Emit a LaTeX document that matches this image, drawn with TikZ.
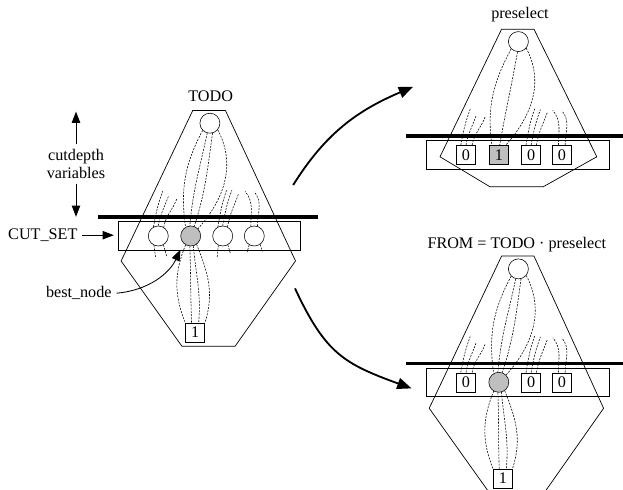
\documentclass[tikz,border=0pt]{standalone}
\usepackage{fontspec}
\setmainfont{Liberation Serif}
\usetikzlibrary{arrows.meta, positioning}

\tikzset{
  vnode/.style={circle, draw, fill=white, minimum size=5mm, inner sep=0pt},
  vbox/.style={rectangle, draw, fill=white, minimum size=4.75mm, inner sep=0pt},
  chosen/.style={fill=gray!50},
  cutrow/.style={rectangle, draw, minimum width=4.56cm, minimum height=7.15mm, inner sep=0pt},
  cutline/.style={line width=2.2pt},
  trail/.style={dash pattern=on 1.4pt off 0.9pt, line width=0.4pt},
  bigarrow/.style={line width=1.3pt, -{Triangle[length=3.6mm,width=2.8mm]}},
  smallarrow/.style={line width=0.6pt, -{Triangle[length=2.8mm,width=2.1mm]}},
}

\begin{document}
\begin{tikzpicture}[every node/.style={font=\fontsize{11.5}{12.6}\selectfont}]
  \useasboundingbox (0,0) rectangle (15.575,12.25);

  % TODO tree
  \begin{scope}[shift={(5.2175,6.825)}]
    \draw[line width=0.5pt] (-0.4,2.66) -- (0.42,2.66) -- (2.17,-1.1) -- (0.66,-3.23)
          -- (-0.67,-3.23) -- (-2.19,-1.1) -- cycle;
    \node[cutrow] (lrow) at (0.02,-0.475) {};
    \draw[cutline] (-2.77,0) -- (2.73,0);
    \node (todo) at (0.05,3.03) {TODO};
    \node[vnode] (lroot) at (0.03,2.345) {};
    \node[vnode] (lc1) at (-1.26,-0.475) {};
    \node[vnode, chosen] (lc2) at (-0.45,-0.475) {};
    \node[vnode] (lc3) at (0.35,-0.475) {};
    \node[vnode] (lc4) at (1.14,-0.475) {};
    \node[vbox] (lone) at (-0.34,-2.89) {1};
    % paths through best node
    \draw[trail] (lroot.-135) to[out=-118,in=98] (lc2.120);
    \draw[trail] (lroot.-105) to[out=-102,in=85] (lc2.95);
    \draw[trail] (lroot.-75) to[out=-98,in=72] (lc2.70);
    \draw[trail] (lroot.-40) to[out=-62,in=48] (lc2.45);
    \draw[trail] (lc2.-120) to[out=-112,in=112] (lone.north west);
    \draw[trail] (lc2.-95) to[out=-88,in=92] (lone.110);
    \draw[trail] (lc2.-75) to[out=-85,in=85] (lone.70);
    \draw[trail] (lc2.-55) to[out=-68,in=72] (lone.north east);
    % other paths
    \foreach \a/\dx/\dy in {118/0.235/0.9, 90/0.25/0.73, 58/0.335/0.73}
      \draw[trail] (lc1.\a) to[out=80,in=-110] ++(\dx,\dy);
    \foreach \a/\dx/\dy in {118/0.22/0.92, 90/0.23/0.89, 62/0.28/0.84}
      \draw[trail] (lc3.\a) to[out=80,in=-110] ++(\dx,\dy);
    \foreach \a/\dx/\dy in {110/-0.14/0.87, 72/-0.08/0.86}
      \draw[trail] (lc4.\a) to[out=90,in=-50] ++(\dx,\dy);
    \draw[trail] (lc1.-115) -- ++(0.04,-0.3);
    \draw[trail] (lc1.-60) -- ++(0.08,-0.28);
    \draw[trail] (lc3.-115) -- ++(-0.03,-0.3);
    \draw[trail] (lc3.-60) -- ++(0.06,-0.2);
    \draw[trail] (lc4.-120) -- ++(-0.05,-0.18);
    \draw[trail] (lc4.-55) -- ++(0.05,-0.18);
  \end{scope}

  % labels on the left
  \node[align=center] (cutdepth) at (1.9,8.15) {cutdepth\\variables};
  \coordinate (cdtop) at (1.9,9.46);
  \coordinate (cdbot) at (1.9,6.83);
  \draw[smallarrow] (cutdepth.north) -- (cdtop);
  \draw[smallarrow] (cutdepth.south) -- (cdbot);
  \node (cutset) at (1.07,6.37) {CUT\_SET};
  \draw[smallarrow, shorten >=3pt] (cutset.east) -- (lrow.west |- cutset.east);
  \node (bestnode) at (1.97,4.92) {best\_node};
  \draw[smallarrow, shorten >=5pt] (bestnode.east) to[out=5,in=-115] (lc2.-135);

  % preselect tree
  \begin{scope}[shift={(12.92,8.85)}]
    \draw[line width=0.5pt] (-0.38,2.67) -- (0.43,2.67) -- (2.0,-0.52) -- (0.66,-1.27)
          -- (-0.67,-1.27) -- (-1.92,-0.52) -- cycle;
    \node[cutrow] (prow) at (0.02,-0.475) {};
    \draw[cutline] (-2.77,0) -- (2.65,0);
    \node (preselect) at (0.08,3.025) {preselect};
    \node[vnode] (proot) at (0.04,2.36) {};
    \node[vbox] (pb1) at (-1.27,-0.475) {0};
    \node[vbox, chosen] (pb2) at (-0.45,-0.475) {1};
    \node[vbox] (pb3) at (0.36,-0.475) {0};
    \node[vbox] (pb4) at (1.13,-0.475) {0};
    \draw[trail] (proot.-135) to[out=-118,in=98] (pb2.125);
    \draw[trail] (proot.-95) to[out=-100,in=80] (pb2.85);
    \draw[trail] (proot.-40) to[out=-62,in=48] (pb2.55);
    \foreach \a/\dx/\dy in {118/0.235/0.9, 90/0.25/0.73, 58/0.335/0.73}
      \draw[trail] (pb1.\a) to[out=80,in=-110] ++(\dx,\dy);
    \foreach \a/\dx/\dy in {118/0.22/0.92, 90/0.23/0.89, 62/0.28/0.84}
      \draw[trail] (pb3.\a) to[out=80,in=-110] ++(\dx,\dy);
    \foreach \a/\dx/\dy in {110/-0.14/0.87, 72/-0.08/0.86}
      \draw[trail] (pb4.\a) to[out=90,in=-50] ++(\dx,\dy);
  \end{scope}

  % FROM tree
  \begin{scope}[shift={(12.92,3.1675)}]
    \begin{scope}
      \clip (-3,-3.1675) rectangle (3,3);
      \draw[line width=0.5pt] (-0.38,2.68) -- (0.43,2.68) -- (2.17,-1.125) -- (0.67,-3.26)
            -- (-0.67,-3.26) -- (-2.19,-1.125) -- cycle;
    \end{scope}
    \node[cutrow] (frow) at (0.02,-0.475) {};
    \draw[cutline] (-2.77,0) -- (2.65,0);
    \node (from) at (0,2.96) {FROM = TODO · preselect};
    \node[vnode] (froot) at (0.04,2.36) {};
    \node[vbox] (fb1) at (-1.27,-0.475) {0};
    \node[vnode, chosen] (fc2) at (-0.45,-0.475) {};
    \node[vbox] (fb3) at (0.36,-0.475) {0};
    \node[vbox] (fb4) at (1.13,-0.475) {0};
    \node[vbox] (fone) at (-0.35,-2.875) {1};
    \draw[trail] (froot.-135) to[out=-118,in=98] (fc2.120);
    \draw[trail] (froot.-105) to[out=-102,in=85] (fc2.95);
    \draw[trail] (froot.-75) to[out=-98,in=72] (fc2.70);
    \draw[trail] (froot.-40) to[out=-62,in=48] (fc2.45);
    \draw[trail] (fc2.-120) to[out=-112,in=112] (fone.north west);
    \draw[trail] (fc2.-95) to[out=-88,in=92] (fone.110);
    \draw[trail] (fc2.-75) to[out=-85,in=85] (fone.70);
    \draw[trail] (fc2.-55) to[out=-68,in=72] (fone.north east);
    \foreach \a/\dx/\dy in {118/0.235/0.9, 90/0.25/0.73, 58/0.335/0.73}
      \draw[trail] (fb1.\a) to[out=80,in=-110] ++(\dx,\dy);
    \foreach \a/\dx/\dy in {118/0.22/0.92, 90/0.23/0.89, 62/0.28/0.84}
      \draw[trail] (fb3.\a) to[out=80,in=-110] ++(\dx,\dy);
    \foreach \a/\dx/\dy in {110/-0.14/0.87, 72/-0.08/0.86}
      \draw[trail] (fb4.\a) to[out=90,in=-50] ++(\dx,\dy);
  \end{scope}

  % selection arrows
  \coordinate (upstart) at (7.33,7.625);
  \coordinate (upend) at (10.33,10.08);
  \coordinate (downstart) at (7.375,5.04);
  \coordinate (downend) at (10.29,2.54);
  \draw[bigarrow] (upstart) to[out=58,in=-157] (upend);
  \draw[bigarrow] (downstart) to[out=-65,in=160, looseness=1.2] (downend);
\end{tikzpicture}
\end{document}
